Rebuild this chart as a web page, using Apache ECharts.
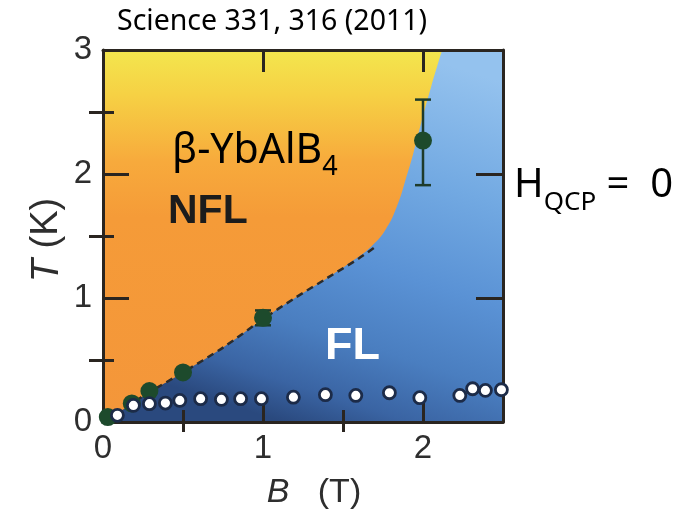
<!DOCTYPE html>
<html>
<head>
<meta charset="utf-8">
<script src="https://cdn.jsdelivr.net/npm/echarts@6/dist/echarts.min.js"></script>
<style>
  html, body { margin: 0; padding: 0; background: #ffffff; }
  #chart { width: 695px; height: 511px; }
</style>
</head>
<body>
<div id="chart"></div>
<script>
// Crossover line separating the NFL (left/top) and FL (right/bottom) regions
const boundaryB = [0, 0.08, 0.18, 0.29, 0.5, 0.75, 1.0, 1.2, 1.4, 1.55, 1.68, 1.77, 1.84, 1.89, 1.94, 1.99, 2.05, 2.12];
const boundaryT = [0, 0.06, 0.15, 0.24, 0.40, 0.60, 0.83, 1.0, 1.16, 1.29, 1.42, 1.56, 1.75, 1.95, 2.17, 2.42, 2.7, 3.0];

// Dashed guide through the crossover points
const guideB = [0.08, 0.18, 0.29, 0.5, 0.75, 1.0, 1.2, 1.4, 1.6, 1.71];
const guideT = [0.06, 0.15, 0.24, 0.40, 0.60, 0.83, 1.0, 1.16, 1.32, 1.42];

// Crossover temperatures (filled points)
const crossB = [0.03, 0.18, 0.29, 0.5, 1.0, 2.0];
const crossT = [0.04, 0.15, 0.25, 0.40, 0.84, 2.27];

// Error bars on the crossover points
const errB = [1.0, 2.0];
const errLow = [0.78, 1.91];
const errHigh = [0.90, 2.60];

// Onset of Fermi-liquid T^2 behaviour (open points)
const flB = [0.09, 0.19, 0.29, 0.39, 0.48, 0.61, 0.74, 0.86, 0.99, 1.19, 1.39, 1.58, 1.79, 1.98, 2.23, 2.31, 2.39, 2.49];
const flT = [0.054, 0.134, 0.148, 0.153, 0.174, 0.188, 0.182, 0.188, 0.188, 0.20, 0.22, 0.214, 0.236, 0.196, 0.214, 0.268, 0.255, 0.26];

// Axis range and tick values
const bRange = [0, 2.5];
const tRange = [0, 3];
const xLabels = [0, 1, 2];
const yLabels = [0, 1, 2, 3];
const xMajor = [1, 2];
const yMajor = [1, 2];
const xMinor = [0.5, 1.5];
const yMinor = [0.5, 1.5, 2.5];

const zip = (a, b) => a.map((v, i) => [v, b[i]]);

const frameColor = '#2a2520';
const labelFont = { fontFamily: 'Liberation Sans', fontSize: 33, color: '#2e2e2e' };

function valueAxis(range, extra) {
  return Object.assign({
    type: 'value',
    min: range[0],
    max: range[1],
    z: 10,
    splitLine: { show: false },
    axisLine: { show: false },
    axisLabel: { show: false },
    axisTick: { show: false }
  }, extra);
}

function ticks(values, length) {
  return { show: true, inside: true, length: length, customValues: values,
           lineStyle: { color: frameColor, width: 3 } };
}

const xAxes = [
  valueAxis(bRange, {
    position: 'bottom',
    axisLine: { show: true, onZero: false, lineStyle: { color: frameColor, width: 3 } },
    axisTick: ticks(xMajor, 19),
    axisLabel: Object.assign({ show: true, margin: 10, customValues: xLabels }, labelFont),
    name: '{i|B}   (T)',
    nameLocation: 'middle',
    nameGap: 54,
    nameTextStyle: {
      fontFamily: 'Liberation Sans', fontSize: 34, color: '#2e2e2e', padding: [0, 0, 0, 22],
      rich: { i: { fontFamily: 'Liberation Sans', fontSize: 34, fontStyle: 'italic', color: '#2e2e2e' } }
    }
  }),
  valueAxis(bRange, { position: 'bottom', axisTick: ticks(xMinor, 12) }),
  valueAxis(bRange, {
    position: 'top',
    axisLine: { show: true, onZero: false, lineStyle: { color: frameColor, width: 3 } },
    axisTick: ticks(xMajor, 22)
  }),
  valueAxis(bRange, { position: 'top', axisTick: ticks(xMinor, 10) })
];

const yAxes = [
  valueAxis(tRange, {
    position: 'left',
    axisLine: { show: true, onZero: false, lineStyle: { color: frameColor, width: 3 } },
    axisTick: ticks(yMajor, 26),
    axisLabel: Object.assign({ show: true, margin: 11, customValues: yLabels }, labelFont)
  }),
  valueAxis(tRange, { position: 'left', axisTick: ticks(yMinor, 11) }),
  valueAxis(tRange, {
    position: 'right',
    axisLine: { show: true, onZero: false, lineStyle: { color: frameColor, width: 3 } },
    axisTick: ticks(yMajor, 27)
  }),
  valueAxis(tRange, { position: 'right', axisTick: ticks(yMinor, 14) })
];

const flFill = {
  type: 'linear', x: 0.75, y: 0, x2: 0.45, y2: 1,
  colorStops: [
    { offset: 0, color: '#94c2ee' },
    { offset: 0.3, color: '#72a9e2' },
    { offset: 0.55, color: '#5a92d5' },
    { offset: 0.75, color: '#4a7ec0' },
    { offset: 0.9, color: '#3a64a3' },
    { offset: 1, color: '#2a497e' }
  ]
};

const nflFill = {
  type: 'linear', x: 0, y: 0, x2: 0, y2: 1,
  colorStops: [
    { offset: 0, color: '#f3e64e' },
    { offset: 0.12, color: '#f6d144' },
    { offset: 0.3, color: '#f7aa3c' },
    { offset: 0.45, color: '#f59b38' },
    { offset: 1, color: '#f4963a' }
  ]
};

const option = {
  animation: false,
  backgroundColor: '#ffffff',
  grid: { left: 103, right: 192, top: 50, bottom: 89, containLabel: false, outerBoundsMode: 'none' },
  xAxis: xAxes,
  yAxis: yAxes,
  title: {
    text: 'Science 331, 316 (2011)',
    left: 112,
    top: 2,
    textStyle: { fontFamily: 'Noto Sans', fontSize: 28.5, fontWeight: 'normal', color: '#000000' }
  },
  graphic: [
    {
      // vertical axis title
      type: 'text', x: 47, y: 240, rotation: Math.PI / 2, z: 50,
      style: {
        text: '{i|T} (K)',
        align: 'center', verticalAlign: 'middle',
        fontFamily: 'Liberation Sans', fontSize: 38, fill: '#2e2e2e',
        rich: { i: { fontFamily: 'Liberation Sans', fontSize: 38, fontStyle: 'italic', color: '#2e2e2e' } }
      }
    },
    {
      type: 'text', x: 172, y: 151, z: 50,
      style: {
        text: '{m|β-YbAlB}{s|4}',
        align: 'left', verticalAlign: 'middle',
        rich: {
          m: { fontFamily: 'Noto Sans', fontSize: 41, color: '#000', lineHeight: 60, verticalAlign: 'middle' },
          s: { fontFamily: 'Noto Sans', fontSize: 27, color: '#000', lineHeight: 60, verticalAlign: 'bottom' }
        }
      }
    },
    {
      type: 'text', x: 168, y: 212, z: 50,
      style: { text: 'NFL', fontFamily: 'Liberation Sans', fontSize: 41, fontWeight: 'bold',
               fill: '#1c1c1c', align: 'left', verticalAlign: 'middle' }
    },
    {
      type: 'text', x: 325, y: 347, z: 50,
      style: { text: 'FL', fontFamily: 'Liberation Sans', fontSize: 45, fontWeight: 'bold',
               fill: '#ffffff', align: 'left', verticalAlign: 'middle' }
    },
    {
      type: 'text', x: 514, y: 186, z: 50,
      style: {
        text: '{h|H}{s|QCP}{h| =  0}',
        align: 'left', verticalAlign: 'middle',
        rich: {
          h: { fontFamily: 'Noto Sans', fontSize: 40, color: '#000', lineHeight: 60, verticalAlign: 'middle' },
          s: { fontFamily: 'Noto Sans', fontSize: 26, color: '#000', lineHeight: 60, verticalAlign: 'bottom' }
        }
      }
    }
  ],
  series: [
    {
      name: 'FL region',
      type: 'line',
      data: [[bRange[0], tRange[1]], [bRange[1], tRange[1]]],
      symbol: 'none',
      lineStyle: { width: 0 },
      areaStyle: { origin: 'start', color: flFill, opacity: 1 },
      silent: true,
      z: 1
    },
    {
      name: 'NFL region',
      type: 'line',
      data: zip(boundaryB, boundaryT),
      symbol: 'none',
      smooth: 0.5,
      lineStyle: { width: 0 },
      areaStyle: { origin: 'end', color: nflFill, opacity: 1 },
      silent: true,
      z: 2
    },
    {
      name: 'guide',
      type: 'line',
      data: zip(guideB, guideT),
      symbol: 'none',
      smooth: 0.3,
      lineStyle: { color: '#2b2b2b', width: 2.5, type: [7, 5] },
      z: 3
    },
    {
      name: 'error',
      type: 'custom',
      data: errB.map((b, i) => [b, errLow[i], errHigh[i]]),
      encode: { x: 0, y: [1, 2] },
      renderItem: function (params, api) {
        const lo = api.coord([api.value(0), api.value(1)]);
        const hi = api.coord([api.value(0), api.value(2)]);
        const w = 8;
        const st = { stroke: '#1e3b2b', lineWidth: 2.5 };
        return {
          type: 'group',
          children: [
            { type: 'line', shape: { x1: lo[0], y1: lo[1], x2: hi[0], y2: hi[1] }, style: st },
            { type: 'line', shape: { x1: lo[0] - w, y1: lo[1], x2: lo[0] + w, y2: lo[1] }, style: st },
            { type: 'line', shape: { x1: hi[0] - w, y1: hi[1], x2: hi[0] + w, y2: hi[1] }, style: st }
          ]
        };
      },
      z: 4
    },
    {
      name: 'crossover',
      type: 'scatter',
      data: zip(crossB, crossT),
      symbol: 'circle',
      symbolSize: 18,
      itemStyle: { color: '#1d4a2c', opacity: 1 },
      z: 20
    },
    {
      name: 'FL onset',
      type: 'scatter',
      data: zip(flB, flT),
      symbol: 'circle',
      symbolSize: 12,
      itemStyle: { color: '#ffffff', borderColor: '#1c2b48', borderWidth: 2.8, opacity: 1 },
      z: 21
    }
  ]
};

const chart = echarts.init(document.getElementById('chart'), null, { renderer: 'canvas' });
chart.setOption(option);
</script>
</body>
</html>
